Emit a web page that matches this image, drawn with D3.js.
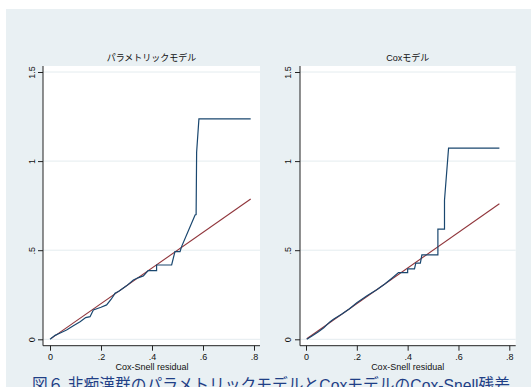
<!DOCTYPE html>
<html><head><meta charset="utf-8">
<script src="https://cdn.jsdelivr.net/npm/d3@7"></script>
<style>html,body{margin:0;padding:0;background:#fff;}svg{display:block;}</style>
</head><body>
<script>
// Data
const panelTitles = ["パラメトリックモデル", "Coxモデル"];
const xTicks = [0, 0.2, 0.4, 0.6, 0.8];
const xTickLabels = ["0", ".2", ".4", ".6", ".8"];
const yTicks = [0, 0.5, 1, 1.5];
const yTickLabels = ["0", ".5", "1", "1.5"];
const xTitle = "Cox-Snell residual";
const caption = "図６ 非痴漢群のパラメトリックモデルとCoxモデルのCox-Snell残差";

// Nelson-Aalen cumulative hazard vs Cox-Snell residual (parametric)
const paramX = [0, 0.02, 0.04, 0.065, 0.09, 0.118, 0.14, 0.157, 0.17, 0.2, 0.222, 0.24, 0.255, 0.27, 0.3, 0.327, 0.345, 0.366, 0.385, 0.418, 0.418, 0.477, 0.49, 0.51, 0.516, 0.569, 0.573, 0.575, 0.584, 0.787];
const paramY = [0, 0.022, 0.035, 0.052, 0.075, 0.099, 0.122, 0.127, 0.165, 0.18, 0.193, 0.225, 0.258, 0.27, 0.3, 0.333, 0.345, 0.356, 0.385, 0.385, 0.417, 0.417, 0.492, 0.492, 0.52, 0.698, 0.70, 1.05, 1.237, 1.237];
const paramRefX = [0.005, 0.787];

// Cox model
const coxX = [0.003, 0.025, 0.049, 0.07, 0.095, 0.108, 0.14, 0.17, 0.2, 0.24, 0.28, 0.31, 0.338, 0.364, 0.4, 0.4, 0.427, 0.432, 0.45, 0.456, 0.519, 0.519, 0.545, 0.545, 0.561, 0.761];
const coxY = [0, 0.02, 0.043, 0.065, 0.099, 0.112, 0.14, 0.17, 0.205, 0.245, 0.28, 0.31, 0.343, 0.374, 0.374, 0.395, 0.395, 0.427, 0.427, 0.474, 0.474, 0.618, 0.618, 0.78, 1.073, 1.073];
const coxRefX = [0.003, 0.761];

const W = 531, H = 387;
const svg = d3.select("body").append("svg").attr("width", W).attr("height", H);
svg.append("rect").attr("x", 6).attr("y", 9).attr("width", W - 6).attr("height", H - 9).attr("fill", "#e9f0f3");

const latin = "'Liberation Sans', Arial, sans-serif";
const cjk = "'Liberation Sans', 'Noto Sans CJK JP', sans-serif";

const panels = [
  {title: panelTitles[0], xs: paramX, ys: paramY, ref: paramRefX, left: 43, right: 260, x0: 50, x8: 254, ylab: 35},
  {title: panelTitles[1], xs: coxX, ys: coxY, ref: coxRefX, left: 300, right: 515.7, x0: 306, x8: 509.3, ylab: 291}
];
const plotTop = 66, plotBottom = 345.7;

panels.forEach(p => {
  const x = d3.scaleLinear().domain([0, 0.8]).range([p.x0, p.x8]);
  const y = d3.scaleLinear().domain([0, 1.5]).range([339.3, 72]);
  const g = svg.append("g");
  g.append("rect").attr("x", p.left).attr("y", plotTop).attr("width", p.right - p.left).attr("height", plotBottom - plotTop).attr("fill", "#fff");
  // gridlines
  g.selectAll(".grid").data(yTicks).join("line")
    .attr("x1", p.left).attr("x2", p.right)
    .attr("y1", d => y(d)).attr("y2", d => y(d))
    .attr("stroke", "#e4ecef").attr("stroke-width", 1);
  // y axis
  const ya = d3.axisLeft(y).tickValues(yTicks).tickFormat((d, i) => yTickLabels[i]).tickSize(5).tickSizeOuter(0);
  const yg = g.append("g").attr("transform", `translate(${p.left},0)`).call(ya);
  yg.select(".domain").attr("d", `M0,${plotTop}V${plotBottom}`).attr("stroke", "#222");
  yg.selectAll(".tick line").attr("stroke", "#222");
  yg.selectAll(".tick text").attr("font-family", latin).attr("font-size", 9).attr("fill", "#111")
    .attr("text-anchor", "middle").attr("dy", 0)
    .attr("transform", `translate(${p.ylab - p.left},0) rotate(-90)`)
    .attr("x", 0).attr("y", 0);
  // x axis
  const xa = d3.axisBottom(x).tickValues(xTicks).tickFormat((d, i) => xTickLabels[i]).tickSize(5).tickSizeOuter(0);
  const xg = g.append("g").attr("transform", `translate(0,${plotBottom})`).call(xa);
  xg.select(".domain").attr("d", `M${p.left},0H${p.right}`).attr("stroke", "#222");
  xg.selectAll(".tick line").attr("stroke", "#222");
  xg.selectAll(".tick text").attr("font-family", latin).attr("font-size", 9).attr("fill", "#111").attr("y", 8).attr("dy", "0.71em");
  g.append("text").attr("x", (p.x0 + p.x8) / 2).attr("y", 370).attr("text-anchor", "middle")
    .attr("font-family", latin).attr("font-size", 9).attr("fill", "#111").text(xTitle);
  // title
  g.append("text").attr("x", (p.left + p.right) / 2).attr("y", 61).attr("text-anchor", "middle")
    .attr("font-family", cjk).attr("font-size", 9).attr("fill", "#111").text(p.title);
  // reference line
  g.append("path").datum(p.ref)
    .attr("d", d3.line().x(d => x(d)).y(d => y(d)))
    .attr("stroke", "#90353b").attr("stroke-width", 1.1).attr("fill", "none");
  // cumulative hazard
  const pts = p.xs.map((v, i) => [v, p.ys[i]]);
  g.append("path").datum(pts)
    .attr("d", d3.line().x(d => x(d[0])).y(d => y(d[1])))
    .attr("stroke", "#1a476f").attr("stroke-width", 1.2).attr("fill", "none");
});

svg.append("text").attr("x", 32).attr("y", 391).attr("font-family", cjk).attr("font-size", 17)
  .attr("fill", "#1f3f86").attr("textLength", 478).attr("lengthAdjust", "spacingAndGlyphs").text(caption);
</script>
</body></html>
